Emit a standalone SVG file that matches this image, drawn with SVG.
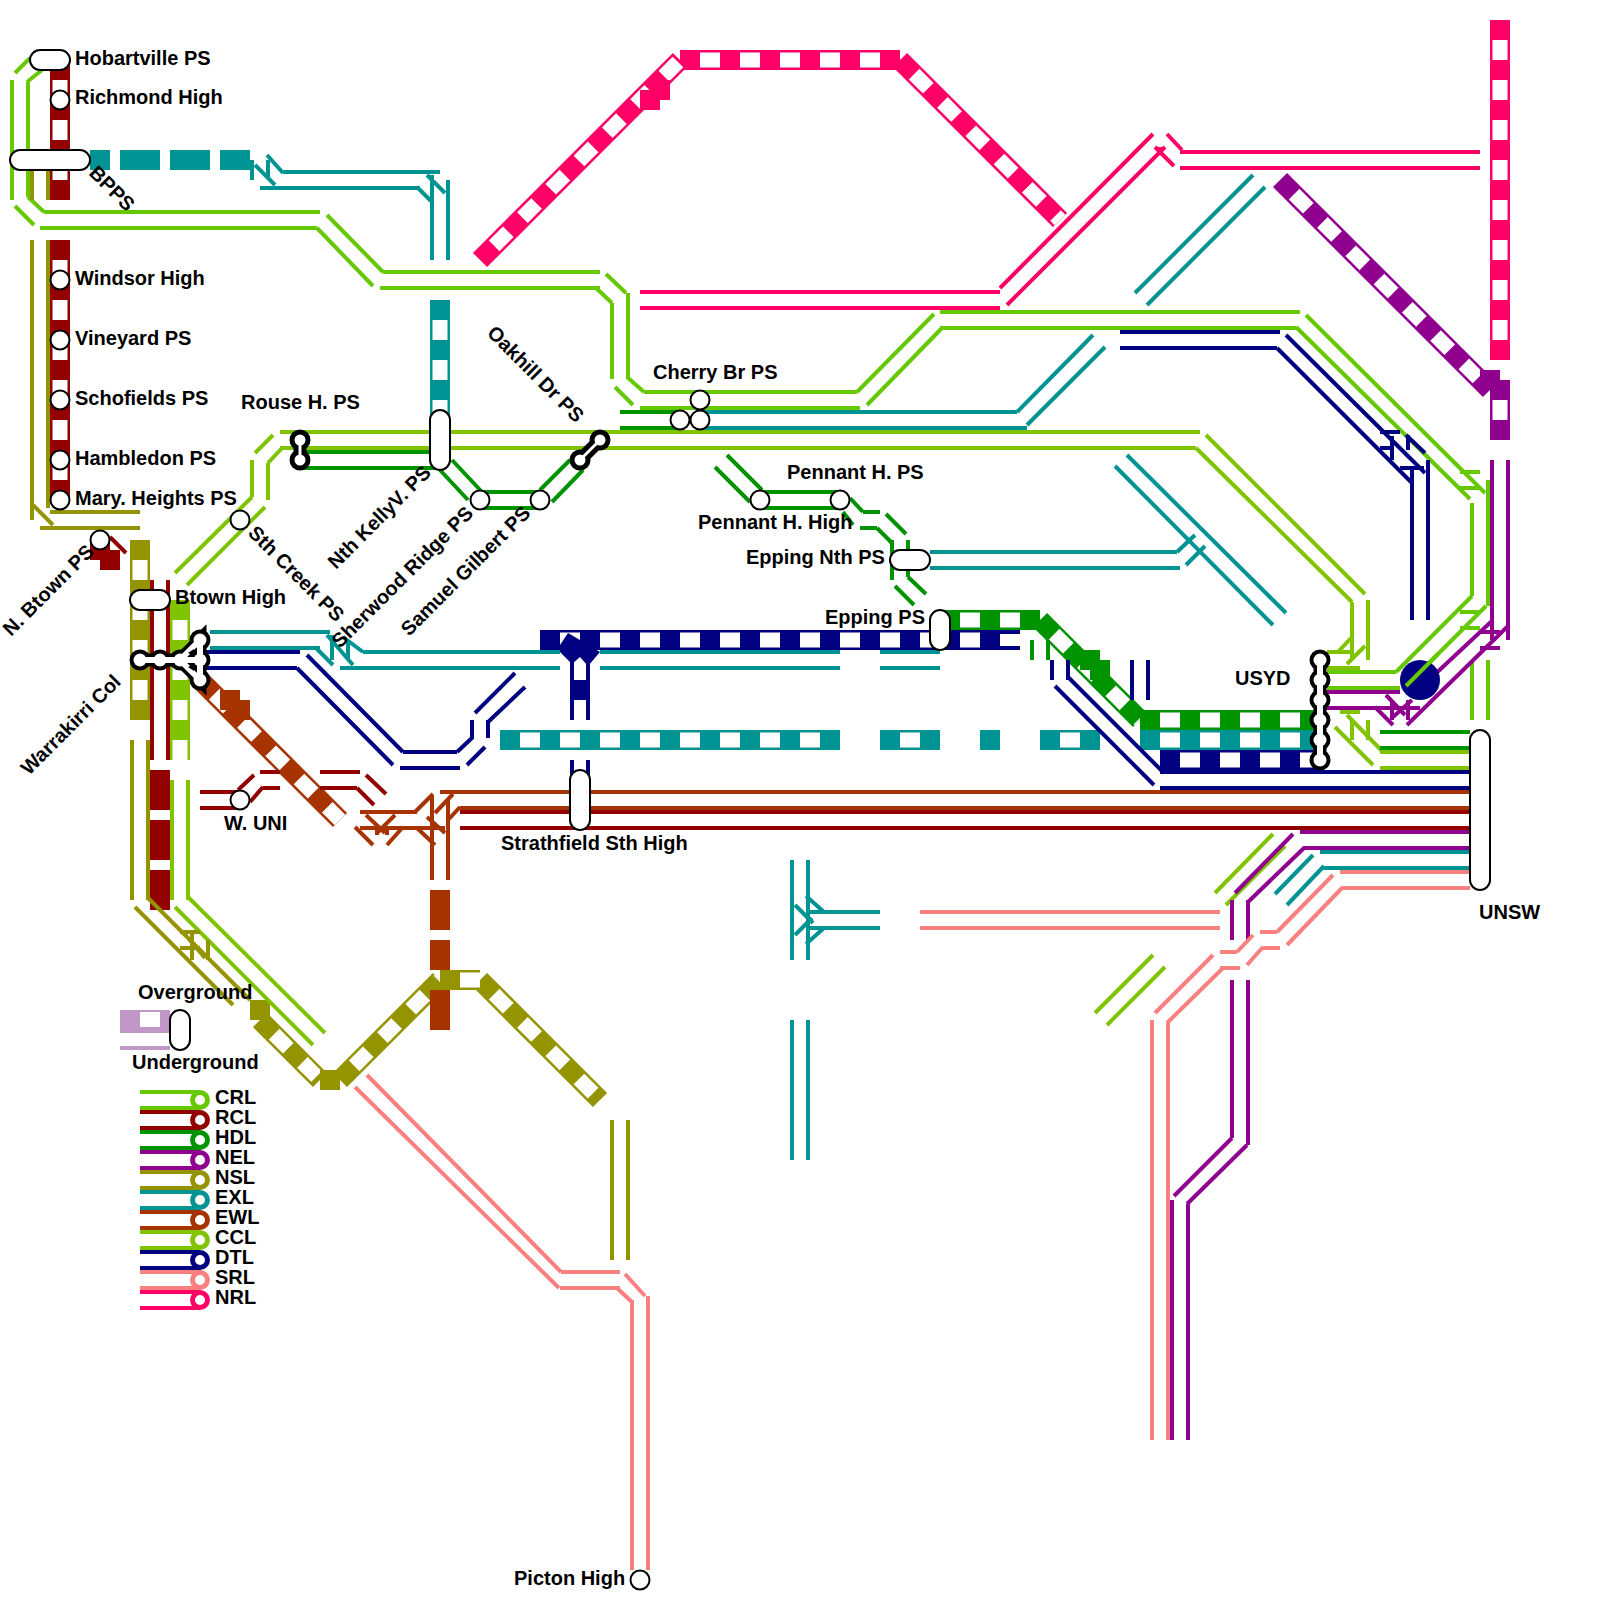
<svg xmlns="http://www.w3.org/2000/svg" width="1600" height="1600" viewBox="0 0 1600 1600">
<style>
text{font-family:"Liberation Sans",Arial,sans-serif;font-weight:bold;font-size:20px;fill:#000}
path{fill:none;stroke-width:4}
.crl{stroke:#66c800}.ccl{stroke:#80c400}.rcl{stroke:#930000}.hdl{stroke:#009300}.nel{stroke:#8f008f}.nsl{stroke:#949400}.exl{stroke:#009393}.ewl{stroke:#a63300}.dtl{stroke:#000080}.srl{stroke:#fa8080}.nrl{stroke:#ff0066}
path.t{stroke-width:20}
path.w{stroke:#fff;stroke-width:15;stroke-dasharray:20 20;stroke-dashoffset:20}
rect.f{stroke:none}
.s{fill:#fff;stroke:#000;stroke-width:2}
.ib{stroke:#000;fill:#000}.iw{stroke:#fff;fill:#fff}
path.ib{stroke-width:13;fill:none}path.iw{stroke-width:6;fill:none}
circle.ib,circle.iw{stroke:none}
</style>
<g id="connectors">
<g id="tiles-underground">
<path class="t rcl" d="M60 60V200M60 240V500"/><path class="w" d="M60 60V200"/><path class="w" d="M60 240V500"/>
<path class="t exl" d="M440 300V420"/><path class="w" d="M440 300V420"/>
<path class="t nsl" d="M140 540V720"/><path class="w" d="M140 540V720"/>
<path class="t ccl" d="M180 600V760"/><path class="w" d="M180 600V760"/>
<path class="t ewl" d="M200 680L340 820"/><path class="w" d="M200 680L340 820"/>
<path class="t nrl" d="M480 260L680 60M680 60H900M900 60L1060 220"/><path class="w" d="M480 260L680 60"/><path class="w" d="M680 60H900"/><path class="w" d="M900 60L1060 220"/>
<path class="t nrl" d="M1500 20V360"/><path class="w" d="M1500 20V360"/>
<path class="t nel" d="M1280 180L1490 390"/><path class="w" d="M1280 180L1490 390"/>
<path class="t nel" d="M1500 380V440"/><path class="w" d="M1500 380V440"/>
<path class="t dtl" d="M540 640H1000"/><path class="w" d="M540 640H1000"/>
<path class="t hdl" d="M940 620H1040M1040 620L1140 720"/><path class="w" d="M940 620H1040"/><path class="w" d="M1040 620L1140 720"/>
<path class="t hdl" d="M1140 720H1320"/><path class="w" d="M1140 720H1320"/>
<path class="t exl" d="M1140 740H1320"/><path class="w" d="M1140 740H1320"/>
<path class="t dtl" d="M1160 760H1320"/><path class="w" d="M1160 760H1320"/>
<path class="t exl" d="M500 740H840"/><path class="w" d="M500 740H840"/>
<path class="t exl" d="M880 740H940"/><path class="w" d="M880 740H940"/>
<path class="t exl" d="M980 740H1000"/>
<path class="t exl" d="M1040 740H1100"/><path class="w" d="M1040 740H1100"/>
<path class="t nsl" d="M260 1020L320 1080"/><path class="w" d="M260 1020L320 1080"/>
<path class="t nsl" d="M340 1080L440 980"/><path class="w" d="M340 1080L440 980"/>
<path class="t nsl" d="M440 980H480M480 980L600 1100"/><path class="w" d="M440 980H480"/><path class="w" d="M480 980L600 1100"/>
<path class="t dtl" d="M580 660V720"/><path class="w" d="M580 660V680" style="stroke-dashoffset:0"/><path class="w" d="M580 700V720" style="stroke-dashoffset:0"/>
<polygon points="560,645 568,633 580,640 600,652 588,666 580,657 572,664 560,652" style="fill:#000080"/>
<path class="dtl" d="M572 660V720M588 660V720"/>
<rect class="f" x="640" y="90" width="20" height="20" fill="#ff0066"/><rect class="f" x="650" y="80" width="20" height="20" fill="#ff0066"/>
<rect class="f" x="220" y="690" width="20" height="20" fill="#a63300"/><rect class="f" x="230" y="700" width="20" height="20" fill="#a63300"/>
<rect class="f" x="1480" y="370" width="20" height="20" fill="#8f008f"/><rect class="f" x="1490" y="380" width="20" height="20" fill="#8f008f"/>
<rect class="f" x="1080" y="650" width="20" height="20" fill="#009300"/><rect class="f" x="1090" y="660" width="20" height="20" fill="#009300"/>
<rect class="f" x="90" y="543" width="20" height="17" fill="#930000"/><rect class="f" x="100" y="550" width="20" height="20" fill="#930000"/>
<rect class="f" x="250" y="1000" width="20" height="20" fill="#949400"/><rect class="f" x="320" y="1070" width="20" height="20" fill="#949400"/><rect class="f" x="440" y="970" width="20" height="20" fill="#949400"/>
</g>
<g id="tiles-dashed">
<path class="t exl" d="M90 160H110M120 160H160M170 160H210M220 160H250"/>
<path class="t rcl" d="M160 770V810M160 820V860M160 870V910"/>
<path class="t ewl" d="M440 890V930M440 940V970M440 990V1030"/>
</g>
<g id="crl" class="crl">
<path d="M15 73L30 58M27 82L42 70M12 80V200M28 82V197M15 206L34 225M28 197L44 212M44 212H320M40 228H317M327 215L383 272M317 228L373 286M383 272H600M380 288H600M606 274L626 293M595 287L612 303M612 303V379M628 293V379M615 387L633 405M627 377L644 392M644 392H857M640 408H860M857 392L934 314M867 405L943 327M940 312H1300M940 328H1296M1306 315L1485 493M1296 327L1470 499M1472 503V596M1488 480V606M1460 472H1480M1460 488H1480M1472 596L1396 672M1486 606L1406 686M1327 672H1396M1327 688H1400M1460 612H1480M1460 628H1480M1472 660V720M1488 660V720"/>
</g>
<g id="ccl" class="ccl">
<path d="M280 432H1200M280 448H1196M1206 435L1365 594M1196 448L1352 602M1352 602V660M1368 600V660M1337 653L1352 637M1347 664L1365 646M1327 652H1352M1327 668H1360M1340 712H1360M1335 727L1373 765M1347 715L1383 752M1352 720V740M1368 720V740M1380 752H1470M1380 768H1470M273 435L255 453M283 447L268 463M252 460V497M268 463V500M252 497L175 573M265 507L187 585M172 780V900M188 780V900M175 907L313 1045M188 897L325 1033M1273 834L1215 893M1285 846L1226 905M1153 955L1095 1013M1165 967L1107 1025"/>
</g>
<g id="rcl" class="rcl">
<path d="M110 537L126 553M152 580V760M168 580V760M200 792H240M200 808H240M238 790L254 775M250 802L263 787M260 772H280M263 788H280M320 772H360M320 788H357M366 775L386 794M357 788L374 805M460 812H1470M460 828H1470"/>
</g>
<g id="hdl" class="hdl">
<path d="M300 452H430M300 468H436M452 460L482 492M440 470L468 500M480 492H540M480 508H540M540 490L570 460M552 502L583 470M620 412H680M620 428H680M727 455L762 490M715 467L750 502M760 492H840M760 508H840M850 498L863 512M843 512L853 525M863 512H880M860 528H877M886 514L906 534M877 528L892 543M892 540V580M908 540V577M908 577L926 594M895 586L914 605M1032 640V660M1048 640V660M1380 732H1470M1380 748H1470"/>
</g>
<g id="nel" class="nel">
<path d="M1492 460V640M1508 460V640M1325 692H1400M1325 708H1420M1407 725L1507 627M1416 692L1493 620M1375 707L1393 725M1386 695L1405 715M1412 700L1393 717M1392 700V720M1408 700V720M1480 632H1500M1480 648H1500M1300 832H1470M1303 848H1470M1293 834L1235 893M1304 848L1247 903M1232 900V940M1248 900V940M1232 980V1138M1248 980V1145M1232 1138L1174 1196M1247 1145L1187 1204M1172 1200V1440M1188 1204V1440"/>
</g>
<g id="nsl" class="nsl">
<path d="M32 170V200M48 170V200M32 240V520M48 240V508M33 505L53 525M50 512H140M40 528H140M132 740V900M148 740V900M135 907L233 1005M147 897L250 1000M180 932H200M180 948H200M192 932V960M208 940V960M183 932L205 958M612 1120V1260M628 1120V1260"/>
</g>
<g id="exl" class="exl">
<path d="M252 160V180M268 160V177M255 165L275 185M267 155L283 173M283 172H440M260 188H420M417 187L433 203M427 175L445 193M432 175V260M448 180V260M1253 175L1135 293M1265 187L1147 305M1093 335L1017 412M1105 347L1027 425M700 412H1017M700 428H1027M930 552H1177M930 568H1180M1177 552L1195 535M1186 565L1205 546M1127 455L1286 613M1115 466L1273 625M210 632H330M210 648H320M327 635L353 665M343 637L363 652M315 647L333 665M332 635V660M348 640V660M363 652H560M340 668H560M600 652H840M600 668H840M880 652H940M880 668H940M1320 852H1470M1323 868H1470M1313 855L1275 894M1324 866L1287 905M792 860V960M808 860V960M792 1020V1160M808 1020V1160M808 912H880M808 928H880M806 896L824 912M795 905L813 923M795 935L812 918M806 944L824 928"/>
</g>
<g id="ewl" class="ewl">
<path d="M440 792H1470M460 808H1470M360 812H417M360 828H445M355 827L373 845M366 815L385 833M395 815L377 833M403 827L387 845M377 826V835M387 826V835M415 812L433 794M417 828L435 845M453 794L435 813M445 833L427 817M460 807L448 820M432 796V880M448 800V880"/>
</g>
<g id="dtl" class="dtl">
<path d="M1000 632H1020M1000 648H1020M1052 660V680M1068 660V680M1132 660V700M1148 660V700M1068 677L1164 773M1055 686L1154 785M1160 772H1470M1160 788H1470M1120 332H1280M1120 348H1277M1286 335L1425 473M1277 348L1412 483M1380 432H1400M1380 448H1393M1392 436V460M1408 435V450M1400 468H1424M1412 470V620M1428 460V620M1406 435L1425 453M205 652H300M205 668H297M307 655L403 752M297 668L393 765M403 752H457M400 768H460M457 752L473 737M467 765L485 747M472 720V738M488 720V738M475 713L515 673M487 723L525 687M572 760V780M588 760V780"/>
</g>
<g id="srl" class="srl">
<path d="M367 1075L561 1272M355 1087L559 1288M561 1272H620M560 1288H620M625 1274L645 1296M617 1288L633 1303M632 1300V1570M648 1296V1570M1340 872H1470M1343 888H1470M1333 875L1277 932M1343 887L1287 945M1260 932H1277M1263 948H1280M1253 935L1237 952M1263 947L1247 965M1220 952H1237M1220 968H1240M1213 955L1155 1013M1223 968L1167 1023M920 912H1220M920 928H1220M1152 1020V1440M1168 1023V1440"/>
</g>
<g id="nrl" class="nrl">
<path d="M640 292H1000M640 308H1000M1153 134L1000 288M1165 147L1007 305M1167 134L1182 150M1155 147L1174 166M1180 152H1480M1180 168H1480M1160 147V155"/>
</g>
<circle cx="1420" cy="680" r="20" fill="#000080"/>
<path class="crl" d="M1406 686L1438 654"/>
<g id="legend-sample">
<rect x="120" y="1010" width="50" height="23" fill="#c097c6"/><rect x="140" y="1012" width="20" height="15" fill="#fff"/><rect x="120" y="1046" width="50" height="4" fill="#c097c6"/>
</g>
</g>
<g id="n-hobartville"><rect class="s" x="30" y="50" width="40" height="20" rx="10"/><text x="75" y="65">Hobartville PS</text></g>
<g id="n-richmond"><circle class="s" cx="60" cy="100" r="9.5"/><text x="75" y="104">Richmond High</text></g>
<g id="n-bpps"><rect class="s" x="10" y="150" width="80" height="20" rx="10"/><text transform="translate(88 174) rotate(45)">BPPS</text></g>
<g id="n-windsor"><circle class="s" cx="60" cy="280" r="9.5"/><text x="75" y="285">Windsor High</text></g>
<g id="n-vineyard"><circle class="s" cx="60" cy="340" r="9.5"/><text x="75" y="345">Vineyard PS</text></g>
<g id="n-schofields"><circle class="s" cx="60" cy="400" r="9.5"/><text x="75" y="405">Schofields PS</text></g>
<g id="n-hambledon"><circle class="s" cx="60" cy="460" r="9.5"/><text x="75" y="465">Hambledon PS</text></g>
<g id="n-mary"><circle class="s" cx="60" cy="500" r="9.5"/><text x="75" y="505">Mary. Heights PS</text></g>
<g id="n-nbtown"><circle class="s" cx="100" cy="540" r="9.5"/><text transform="translate(11 637) rotate(-45)">N. Btown PS</text></g>
<g id="n-sthcreek"><circle class="s" cx="240" cy="520" r="9.5"/><text transform="translate(247 534) rotate(45)">Sth Creek PS</text></g>
<g id="n-btown"><rect class="s" x="130" y="590" width="40" height="20" rx="10"/><text x="175" y="604">Btown High</text></g>
<g id="n-warrakirri">
<path class="ib" d="M140 660H180L200 640V680L180 660H200"/><circle class="ib" cx="140" cy="660" r="10.5"/><circle class="ib" cx="160" cy="660" r="10.5"/><circle class="ib" cx="180" cy="660" r="10.5"/><circle class="ib" cx="200" cy="640" r="10.5"/><circle class="ib" cx="200" cy="660" r="10.5"/><circle class="ib" cx="200" cy="680" r="10.5"/>
<circle class="iw" cx="140" cy="660" r="6.5"/><circle class="iw" cx="160" cy="660" r="6.5"/><circle class="iw" cx="200" cy="640" r="6.5"/><circle class="iw" cx="200" cy="660" r="6.5"/><circle class="iw" cx="200" cy="680" r="6.5"/><circle class="iw" cx="180" cy="660" r="6.5"/>
<path class="iw" d="M140 660H200M180 660L200 640M180 660L200 680M200 640V680"/>
<path d="M188 653L194 649L194 656ZM188 667L194 671L194 664Z" style="fill:#000;stroke:none"/>
<text transform="translate(29 776) rotate(-45)">Warrakirri Col</text></g>
<g id="n-rouse">
<path class="ib" d="M300 440V460"/><circle class="ib" cx="300" cy="440" r="10.5"/><circle class="ib" cx="300" cy="460" r="10.5"/><path class="iw" style="stroke-width:3" d="M300 440V460"/><circle class="iw" cx="300" cy="440" r="5.5"/><circle class="iw" cx="300" cy="460" r="5.5"/>
<text x="241" y="409">Rouse H. PS</text></g>
<g id="n-kelly"><rect class="s" x="430" y="410" width="20" height="60" rx="10"/><text transform="translate(336 570) rotate(-45)">Nth KellyV. PS</text></g>
<g id="n-sherwood"><circle class="s" cx="480" cy="500" r="9.5"/><text transform="translate(340 649) rotate(-45)">Sherwood Ridge PS</text></g>
<g id="n-samuel"><circle class="s" cx="540" cy="500" r="9.5"/><text transform="translate(409 637) rotate(-45)">Samuel Gilbert PS</text></g>
<g id="n-oakhill">
<path class="ib" d="M580 460L600 440"/><circle class="ib" cx="580" cy="460" r="10.5"/><circle class="ib" cx="600" cy="440" r="10.5"/><path class="iw" style="stroke-width:3" d="M580 460L600 440"/><circle class="iw" cx="580" cy="460" r="5.5"/><circle class="iw" cx="600" cy="440" r="5.5"/>
<text transform="translate(486 334) rotate(45)">Oakhill Dr PS</text></g>
<g id="n-cherry"><circle class="s" cx="700" cy="400" r="9.5"/><circle class="s" cx="680" cy="420" r="9.5"/><circle class="s" cx="700" cy="420" r="9.5"/><text x="653" y="379">Cherry Br PS</text></g>
<g id="n-pennant-high"><circle class="s" cx="760" cy="500" r="9.5"/><text x="698" y="529">Pennant H. High</text></g>
<g id="n-pennant-ps"><circle class="s" cx="840" cy="500" r="9.5"/><text x="787" y="479">Pennant H. PS</text></g>
<g id="n-eppingnth"><rect class="s" x="890" y="550" width="40" height="20" rx="10"/><text x="746" y="564">Epping Nth PS</text></g>
<g id="n-epping"><rect class="s" x="930" y="610" width="20" height="40" rx="10"/><text x="825" y="624">Epping PS</text></g>
<g id="n-strathfield"><rect class="s" x="570" y="770" width="20" height="60" rx="10"/><text x="501" y="850">Strathfield Sth High</text></g>
<g id="n-wuni"><circle class="s" cx="240" cy="800" r="9.5"/><text x="224" y="830">W. UNI</text></g>
<g id="n-usyd">
<path class="ib" d="M1320 660V760"/><circle class="ib" cx="1320" cy="660" r="10.5"/><circle class="ib" cx="1320" cy="680" r="10.5"/><circle class="ib" cx="1320" cy="700" r="10.5"/><circle class="ib" cx="1320" cy="720" r="10.5"/><circle class="ib" cx="1320" cy="740" r="10.5"/><circle class="ib" cx="1320" cy="760" r="10.5"/>
<path class="iw" d="M1320 660V760"/><circle class="iw" cx="1320" cy="660" r="6.5"/><circle class="iw" cx="1320" cy="680" r="6.5"/><circle class="iw" cx="1320" cy="700" r="6.5"/><circle class="iw" cx="1320" cy="720" r="6.5"/><circle class="iw" cx="1320" cy="740" r="6.5"/><circle class="iw" cx="1320" cy="760" r="6.5"/>
<text x="1235" y="685">USYD</text></g>
<g id="n-unsw"><rect class="s" x="1470" y="730" width="20" height="160" rx="10"/><text x="1479" y="919">UNSW</text></g>
<g id="n-picton"><circle class="s" cx="640" cy="1580" r="9.5"/><text x="514" y="1585">Picton High</text></g>
<g id="legend">
<rect class="s" x="170" y="1010" width="20" height="40" rx="10"/>
<text x="138" y="999">Overground</text><text x="132" y="1069">Underground</text>
<g id="lg-crl"><path class="crl" d="M140 1092H200M140 1108H200"/><circle cx="200" cy="1100" r="7.5" fill="#fff" stroke="#66c800" stroke-width="5"/><text x="215" y="1104">CRL</text></g>
<g id="lg-rcl"><path class="rcl" d="M140 1112H200M140 1128H200"/><circle cx="200" cy="1120" r="7.5" fill="#fff" stroke="#930000" stroke-width="5"/><text x="215" y="1124">RCL</text></g>
<g id="lg-hdl"><path class="hdl" d="M140 1132H200M140 1148H200"/><circle cx="200" cy="1140" r="7.5" fill="#fff" stroke="#009300" stroke-width="5"/><text x="215" y="1144">HDL</text></g>
<g id="lg-nel"><path class="nel" d="M140 1152H200M140 1168H200"/><circle cx="200" cy="1160" r="7.5" fill="#fff" stroke="#8f008f" stroke-width="5"/><text x="215" y="1164">NEL</text></g>
<g id="lg-nsl"><path class="nsl" d="M140 1172H200M140 1188H200"/><circle cx="200" cy="1180" r="7.5" fill="#fff" stroke="#949400" stroke-width="5"/><text x="215" y="1184">NSL</text></g>
<g id="lg-exl"><path class="exl" d="M140 1192H200M140 1208H200"/><circle cx="200" cy="1200" r="7.5" fill="#fff" stroke="#009393" stroke-width="5"/><text x="215" y="1204">EXL</text></g>
<g id="lg-ewl"><path class="ewl" d="M140 1212H200M140 1228H200"/><circle cx="200" cy="1220" r="7.5" fill="#fff" stroke="#a63300" stroke-width="5"/><text x="215" y="1224">EWL</text></g>
<g id="lg-ccl"><path class="ccl" d="M140 1232H200M140 1248H200"/><circle cx="200" cy="1240" r="7.5" fill="#fff" stroke="#80c400" stroke-width="5"/><text x="215" y="1244">CCL</text></g>
<g id="lg-dtl"><path class="dtl" d="M140 1252H200M140 1268H200"/><circle cx="200" cy="1260" r="7.5" fill="#fff" stroke="#000080" stroke-width="5"/><text x="215" y="1264">DTL</text></g>
<g id="lg-srl"><path class="srl" d="M140 1272H200M140 1288H200"/><circle cx="200" cy="1280" r="7.5" fill="#fff" stroke="#fa8080" stroke-width="5"/><text x="215" y="1284">SRL</text></g>
<g id="lg-nrl"><path class="nrl" d="M140 1292H200M140 1308H200"/><circle cx="200" cy="1300" r="7.5" fill="#fff" stroke="#ff0066" stroke-width="5"/><text x="215" y="1304">NRL</text></g>
</g>
</svg>
